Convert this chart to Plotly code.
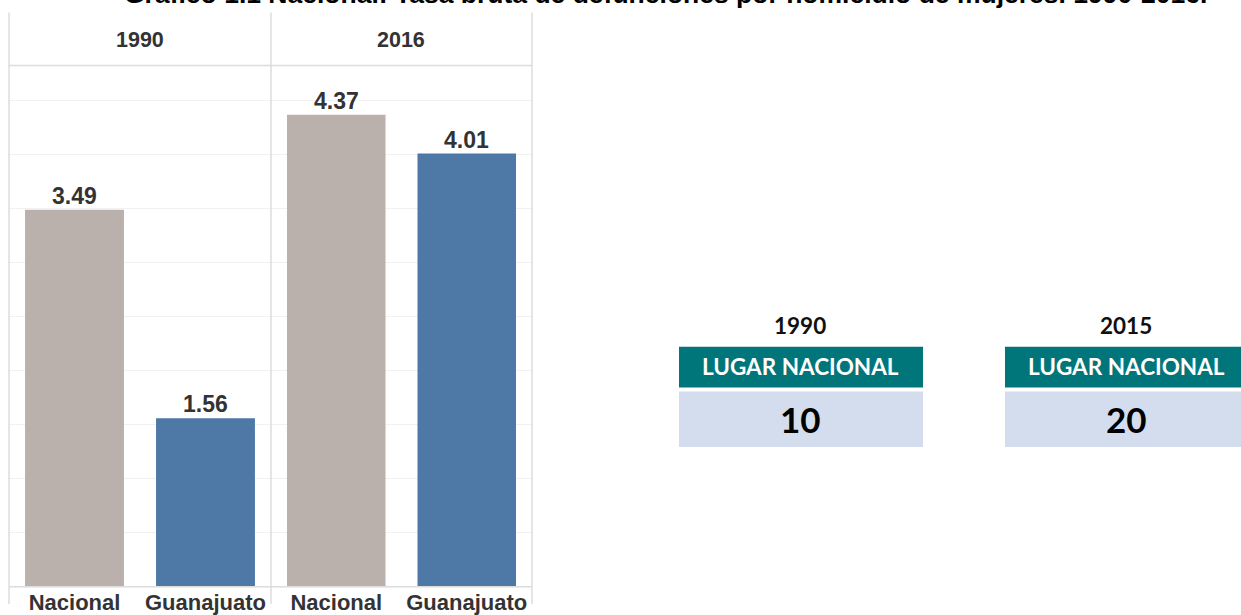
import plotly.graph_objects as go

# ---- data ----
years = ["1990", "2016"]
categories = ["Nacional", "Guanajuato"]
tasa_1990 = [3.49, 1.56]
tasa_2016 = [4.37, 4.01]
rank_years = ["1990", "2015"]
lugar_nacional = [10, 20]
title_text = "Gráfico 1.1 Nacional: Tasa bruta de defunciones por homicidio de mujeres. 1990-2016."

W, H = 1241, 615
K = 0.991  # empirical vertical compensation
def px(x):
    return x / W
def py(y):
    return 1 - (y / K) / H

GRAY = "#BAB0AC"
BLUE = "#4E79A7"
ARIAL = "Arial, Liberation Sans, sans-serif"
CAL = "Lato, Open Sans, sans-serif"

fig = go.Figure()
series = [tasa_1990, tasa_2016]
annotations = []
for i, vals in enumerate(series):
    xa = "x" if i == 0 else "x2"
    ya = "y" if i == 0 else "y2"
    fig.add_trace(go.Bar(
        x=categories, y=vals, xaxis=xa, yaxis=ya,
        marker=dict(color=[GRAY, BLUE], line=dict(width=0)),
        width=0.755, showlegend=False, hoverinfo="skip",
    ))
    for c, v in zip(categories, vals):
        annotations.append(dict(text=f"{v:.2f}", xref=xa, yref=ya, x=c, y=v,
                                xanchor="center", yanchor="bottom", yshift=-1, showarrow=False,
                                font=dict(family=ARIAL, size=23, color="#333333", weight="bold")))

ydom = [py(592), py(66)]
yax = dict(range=[0, 4.826], dtick=0.5, showgrid=True, gridcolor="#f1f1f1", gridwidth=1,
           showticklabels=False, zeroline=False, showline=False, domain=ydom, fixedrange=True)
xax = dict(range=[-0.5, 1.5], showgrid=False, zeroline=False, showline=False, ticks="",
           tickfont=dict(family=ARIAL, size=22, color="#333333", weight="bold"), fixedrange=True)

fig.update_layout(
    width=W, height=H, margin=dict(l=0, r=0, t=0, b=0),
    paper_bgcolor="white", plot_bgcolor="white",
    xaxis=dict(xax, domain=[px(9), px(271)], anchor="y"),
    xaxis2=dict(xax, domain=[px(271), px(532)], anchor="y2"),
    yaxis=dict(yax, anchor="x"),
    yaxis2=dict(yax, anchor="x2"),
)

shapes = []
LC = "#dcdcdc"
for x in [9, 271, 532]:
    shapes.append(dict(type="line", xref="paper", yref="paper", x0=px(x), x1=px(x),
                       y0=py(12.5), y1=0, line=dict(color=LC, width=1.5)))
for y in [66, 592]:
    shapes.append(dict(type="line", xref="paper", yref="paper", x0=px(9), x1=px(532),
                       y0=py(y), y1=py(y), line=dict(color=LC, width=1.5)))

# title (cut off at top)
annotations.append(dict(text=title_text, xref="paper", yref="paper", x=px(665), y=py(-6.5),
                        xanchor="center", yanchor="middle", showarrow=False,
                        font=dict(family=ARIAL, size=26.5, color="#000000", weight="bold")))
# panel headers
for yr, cx in zip(years, [140, 401]):
    annotations.append(dict(text=yr, xref="paper", yref="paper", x=px(cx), y=py(40),
                            xanchor="center", yanchor="middle", showarrow=False,
                            font=dict(family=ARIAL, size=21.5, color="#333333", weight="bold")))

# rank boxes
for yr, val, x0 in zip(rank_years, lugar_nacional, [679, 1005]):
    x1 = x0 + 244
    cx = (x0 + x1) / 2
    shapes.append(dict(type="rect", xref="paper", yref="paper", x0=px(x0), x1=px(x1),
                       y0=py(391), y1=py(350), fillcolor="#00767A", line=dict(width=0)))
    shapes.append(dict(type="rect", xref="paper", yref="paper", x0=px(x0), x1=px(x1),
                       y0=py(451), y1=py(395), fillcolor="#D3DDEE", line=dict(width=0)))
    annotations.append(dict(text=yr, xref="paper", yref="paper", x=px(cx - 1), y=py(328),
                            xanchor="center", yanchor="middle", showarrow=False,
                            font=dict(family=CAL, size=22.5, color="#111111", weight="bold")))
    annotations.append(dict(text="LUGAR NACIONAL", xref="paper", yref="paper", x=px(cx - 1), y=py(370),
                            xanchor="center", yanchor="middle", showarrow=False,
                            font=dict(family=CAL, size=22.5, color="#ffffff", weight="bold")))
    annotations.append(dict(text=str(val), xref="paper", yref="paper", x=px(cx - 1), y=py(423),
                            xanchor="center", yanchor="middle", showarrow=False,
                            font=dict(family=CAL, size=35, color="#000000", weight="bold")))

fig.update_layout(shapes=shapes, annotations=annotations)
css = ("var s='margin:0;padding:0;overflow:hidden;height:615px;width:1241px';"
       "document.documentElement.style.cssText=s;document.body.style.cssText=s;"
       "var g=document.getElementById('{plot_id}');g.style.overflow='hidden';"
       "g.parentElement.style.cssText=s;"
       "document.querySelectorAll('svg.main-svg').forEach(function(e){e.style.overflow='hidden';});")
fig.write_html("out.html", config={"displayModeBar": False}, post_script=css)
